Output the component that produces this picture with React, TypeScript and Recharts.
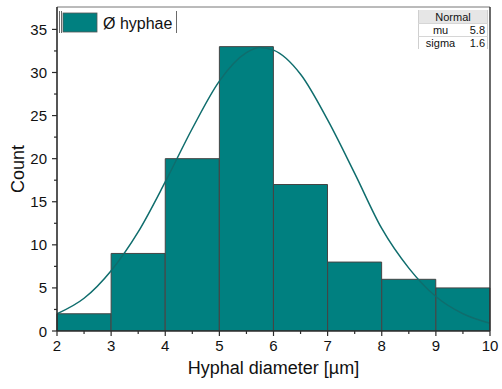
import {
  Bar,
  ComposedChart,
  Legend,
  Line,
  ReferenceLine,
  XAxis,
  YAxis,
} from 'recharts';

// histogram bins (lower edge - upper edge), counts
const bins = ['2-3', '3-4', '4-5', '5-6', '6-7', '7-8', '8-9', '9-10'];
const counts = [2, 9, 20, 33, 17, 8, 6, 5];

// fitted normal curve
const curveX = [2, 2.5, 3, 3.5, 4, 4.5, 5, 5.5, 5.75, 6, 6.5, 7, 7.5, 8, 8.5, 9, 9.5, 10];
const curveY = [2.0, 3.8, 7.0, 11.5, 17.3, 23.5, 29.0, 32.3, 32.9, 32.6, 29.8, 24.5, 18.3, 11.9, 7.3, 4.0, 2.0, 0.9];

const xTicks = [2, 2.5, 3, 3.5, 4, 4.5, 5, 5.5, 6, 6.5, 7, 7.5, 8, 8.5, 9, 9.5, 10];
const yTicks = [0, 2.5, 5, 7.5, 10, 12.5, 15, 17.5, 20, 22.5, 25, 27.5, 30, 32.5, 35];

const fitParams = [
  { name: 'mu', value: '5.8' },
  { name: 'sigma', value: '1.6' },
];

const histData = bins.map((bin, i) => ({ bin, count: counts[i] }));
const curveData = curveX.map((x, i) => ({ x, fit: curveY[i] }));

const FONT = '"Liberation Sans", Arial, sans-serif';
const TEAL = '#008080';
const AXIS = '#2b2b2b';

function YTick(props: any) {
  const { x, y, payload } = props;
  const major = payload.value % 5 === 0;
  return (
    <g>
      <line x1={x - (major ? 5 : 3)} x2={x} y1={y} y2={y} stroke={AXIS} strokeWidth={1.2} />
      {major && (
        <text x={x - 10} y={y + 5.5} textAnchor='end' fontSize={15} fill='#111' fontFamily={FONT}>
          {payload.value}
        </text>
      )}
    </g>
  );
}

function XTick(props: any) {
  const { x, y, payload } = props;
  const major = Number.isInteger(payload.value);
  return (
    <g>
      <line x1={x} x2={x} y1={y} y2={y + (major ? 5 : 3)} stroke={AXIS} strokeWidth={1.2} />
      {major && (
        <text x={x} y={y + 20} textAnchor='middle' fontSize={15} fill='#111' fontFamily={FONT}>
          {payload.value}
        </text>
      )}
    </g>
  );
}

function CountLabel(props: any) {
  const { viewBox } = props;
  const cy = viewBox.y + viewBox.height / 2;
  return (
    <text
      x={24}
      y={cy}
      transform={`rotate(-90 24 ${cy})`}
      textAnchor='middle'
      fontSize={18}
      fill='#111'
      fontFamily={FONT}
    >
      Count
    </text>
  );
}

function LegendBox(props: any) {
  const item = (props.payload || []).find((p: any) => p.type !== 'none');
  return (
    <svg width={200} height={40} style={{ display: 'block' }}>
      <line x1={59.5} x2={59.5} y1={11} y2={33} stroke='#444' strokeWidth={0.8} />
      <line x1={61.5} x2={61.5} y1={11} y2={33} stroke='#444' strokeWidth={0.8} />
      <line x1={176.5} x2={176.5} y1={11} y2={33} stroke='#444' strokeWidth={0.8} />
      <rect x={63} y={13} width={34} height={19} fill={item ? item.color : TEAL} stroke='#555' strokeWidth={0.8} />
      <text x={103} y={28.5} fontSize={16} fill='#111' fontFamily={FONT}>
        {item ? item.value : 'Ø hyphae'}
      </text>
    </svg>
  );
}

function FitTable() {
  const cell: React.CSSProperties = {
    height: 12,
    padding: '0 2px',
    borderTop: '1px solid #d6d6d6',
    lineHeight: '12px',
  };
  return (
    <table
      style={{
        position: 'absolute',
        left: 418,
        top: 10,
        width: 70,
        borderCollapse: 'collapse',
        fontFamily: FONT,
        fontSize: 11,
        color: '#111',
        background: '#fff',
        borderLeft: '1px solid #cfcfcf',
        borderRight: '1px solid #cfcfcf',
      }}
    >
      <tbody>
        <tr>
          <td colSpan={2} style={{ ...cell, borderTop: 'none', background: '#e6e6e6', textAlign: 'center', height: 13 }}>
            Normal
          </td>
        </tr>
        {fitParams.map((p) => (
          <tr key={p.name}>
            <td style={{ ...cell, textAlign: 'center' }}>{p.name}</td>
            <td style={{ ...cell, textAlign: 'right' }}>{p.value}</td>
          </tr>
        ))}
      </tbody>
    </table>
  );
}

function HyphaeHistogram() {
  return (
    <div style={{ position: 'absolute', left: 0, top: 0, width: 502, height: 389, background: '#fff' }}>
      <ComposedChart
        width={502}
        height={389}
        data={histData}
        margin={{ top: 7, right: 12, left: 0, bottom: 0 }}
        barCategoryGap={0}
        barGap={0}
      >
        <XAxis xAxisId='cat' dataKey='bin' type='category' orientation='top' height={0} hide />
        <XAxis
          xAxisId='num'
          dataKey='x'
          type='number'
          domain={[2, 10]}
          ticks={xTicks}
          allowDataOverflow
          height={58}
          tickSize={0}
          tickMargin={0}
          tickLine={false}
          tick={<XTick />}
          axisLine={{ stroke: AXIS, strokeWidth: 1.6 }}
          interval={0}
          label={{
            value: 'Hyphal diameter [µm]',
            position: 'insideBottom',
            offset: 15,
            fontSize: 18,
            fill: '#111',
            fontFamily: FONT,
          }}
        />
        <YAxis
          type='number'
          domain={[0, 37.6]}
          ticks={yTicks}
          allowDataOverflow
          width={57}
          tickSize={0}
          tickMargin={0}
          tickLine={false}
          tick={<YTick />}
          interval={0}
          axisLine={{ stroke: AXIS, strokeWidth: 1.6 }}
          label={<CountLabel />}
        />
        <Bar
          xAxisId='cat'
          dataKey='count'
          name='Ø hyphae'
          fill={TEAL}
          stroke='#444'
          strokeWidth={1}
          isAnimationActive={false}
        />
        <Line
          xAxisId='num'
          data={curveData}
          dataKey='fit'
          type='monotone'
          stroke='#0f6d6d'
          strokeWidth={1.5}
          dot={false}
          legendType='none'
          isAnimationActive={false}
        />
        <ReferenceLine xAxisId='num' y={37.6} stroke='#777' strokeWidth={1} />
        <ReferenceLine xAxisId='num' x={10} stroke={AXIS} strokeWidth={1.4} />
        <Legend
          layout='horizontal'
          verticalAlign='middle'
          align='center'
          wrapperStyle={{ top: 0, left: 0, width: 200, height: 40 }}
          content={<LegendBox />}
        />
      </ComposedChart>
      <FitTable />
    </div>
  );
}

export default function App() {
  return <HyphaeHistogram />;
}
